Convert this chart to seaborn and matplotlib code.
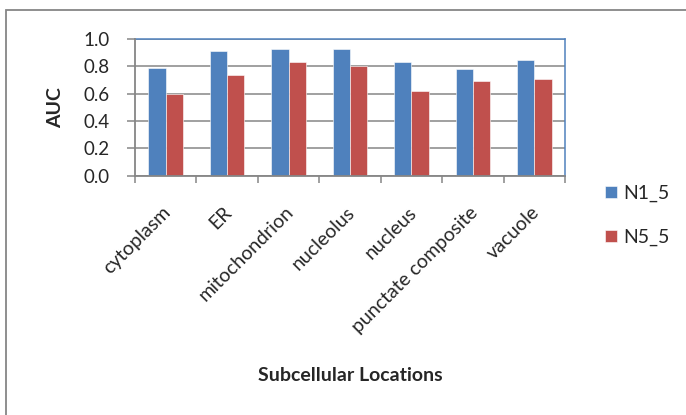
import matplotlib
matplotlib.use("Agg")
import matplotlib.pyplot as plt
import matplotlib.patches as mpatches
import seaborn as sns
import pandas as pd

# AUC per subcellular location for the two feature sets
locations = ["cytoplasm", "ER", "mitochondrion", "nucleolus", "nucleus",
             "punctate composite", "vacuole"]
n1_5 = [0.79, 0.91, 0.93, 0.93, 0.83, 0.78, 0.85]
n5_5 = [0.60, 0.74, 0.83, 0.80, 0.62, 0.69, 0.71]
series_names = ["N1_5", "N5_5"]
y_ticks = [0.0, 0.2, 0.4, 0.6, 0.8, 1.0]

df = pd.DataFrame({
    "location": locations * 2,
    "AUC": n1_5 + n5_5,
    "series": [series_names[0]] * len(locations) + [series_names[1]] * len(locations),
})

sns.set_theme(style="white")
plt.rcParams["font.family"] = ["Lato", "DejaVu Sans"]

BLUE = "#4F81BD"
RED = "#C0504D"
GRAY = "#868686"
W, H = 686, 415
FS = 14

fig = plt.figure(figsize=(W / 100, H / 100), dpi=100)
fig.patch.set_facecolor("white")

# outer chart-area frame (runs past the right and bottom edges)
fig.add_artist(mpatches.Rectangle((6 / W, -0.1), 1.2, 1 - 10 / H + 0.1,
                                  transform=fig.transFigure, fill=False,
                                  edgecolor=GRAY, linewidth=1.3, zorder=0))

left, right, top, bottom = 135, 565, 39, 175.7
ax = fig.add_axes([left / W, 1 - bottom / H, (right - left) / W, (bottom - top) / H])

sns.barplot(data=df, x="location", y="AUC", hue="series",
            palette=[BLUE, RED], width=0.565, saturation=1,
            edgecolor="white", linewidth=0.4, ax=ax, zorder=3)

ax.set_xlim(-0.5, len(locations) - 0.5)
ax.set_ylim(0, 1.0)
ax.set_yticks(y_ticks)
ax.set_yticklabels([f"{v:.1f}" for v in y_ticks], fontsize=13.5)
ax.yaxis.grid(True, color=GRAY, linewidth=1.1, zorder=0)
ax.set_axisbelow(True)

# rotated category names (label anchors nudged slightly left of centre),
# plus tick marks on the category boundaries
label_nudge = 0.065
ax.set_xticks([i - label_nudge for i in range(len(locations))])
ax.set_xticklabels(locations, rotation=45, ha="right", va="top",
                   rotation_mode="anchor", fontsize=FS)
ax.set_xticks([i - 0.5 for i in range(len(locations) + 1)], minor=True)
ax.tick_params(axis="x", which="major", length=0, pad=20)
ax.tick_params(axis="x", which="minor", length=5, width=1.1, color=GRAY,
               direction="out", bottom=True)
ax.tick_params(axis="y", length=6, width=1.1, color=GRAY, direction="out",
               left=True, pad=12)

for side in ["left", "bottom"]:
    ax.spines[side].set_color(GRAY)
    ax.spines[side].set_linewidth(1.3)
    ax.spines[side].set_zorder(5)
for side in ["top", "right"]:
    ax.spines[side].set_visible(True)
    ax.spines[side].set_color(BLUE)
    ax.spines[side].set_linewidth(1.1)

ax.set_ylabel("AUC", fontsize=FS, fontweight="bold", labelpad=14)
ax.set_xlabel("")
fig.text(350 / W, 1 - 375 / H, "Subcellular Locations", fontsize=FS,
         fontweight="bold", ha="center", va="center")

handles, labels = ax.get_legend_handles_labels()
ax.legend(handles, labels, loc="upper left",
          bbox_to_anchor=(605 / W, 1 - 185 / H), bbox_transform=fig.transFigure,
          frameon=False, fontsize=FS, handlelength=0.6, handleheight=0.6,
          handletextpad=0.35, labelspacing=1.38, borderaxespad=0, borderpad=0)

fig.savefig("out.png", dpi=100, facecolor="white")
